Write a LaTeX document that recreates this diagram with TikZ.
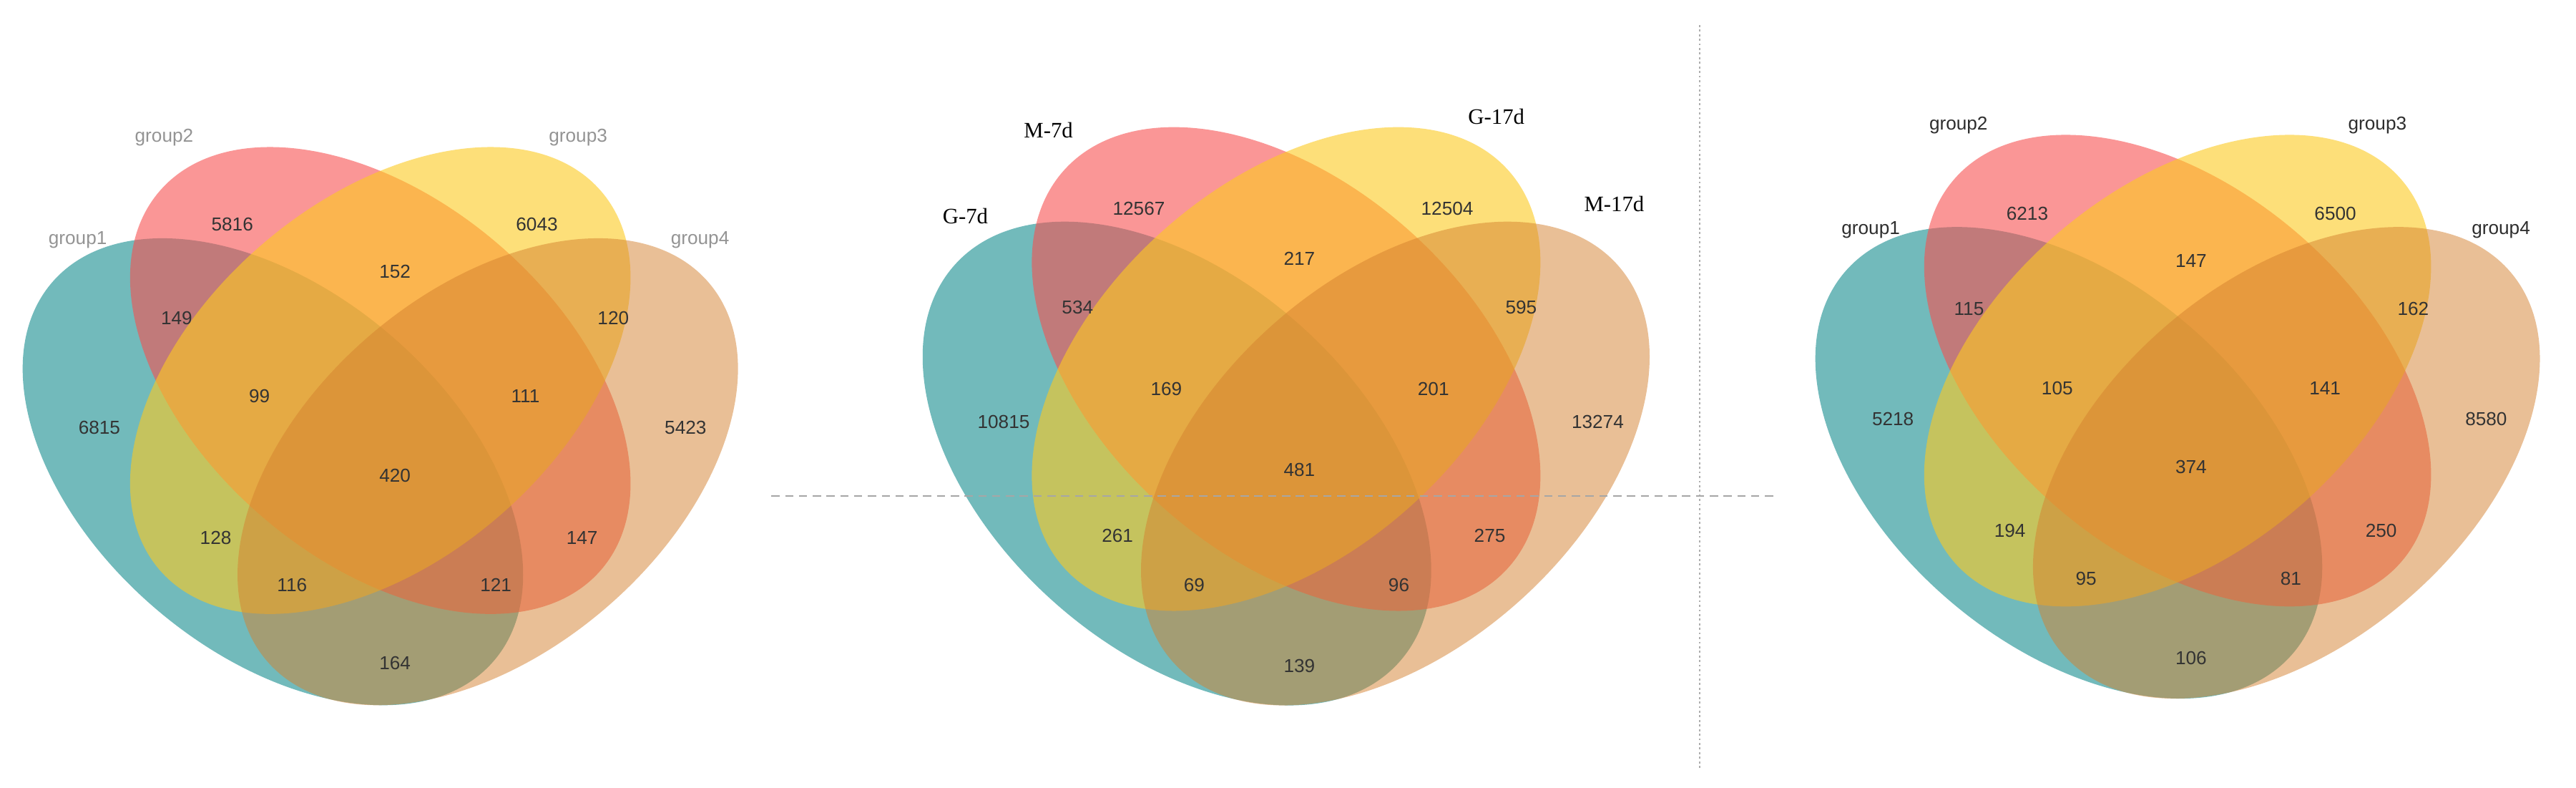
\documentclass[tikz,border=0pt]{standalone}
\usepackage{fontspec}
\setmainfont{Liberation Serif}
\setsansfont{Liberation Sans}
\definecolor{cteal}{RGB}{20,140,143}
\definecolor{cpink}{RGB}{247,80,80}
\definecolor{cyel}{RGB}{253,202,32}
\definecolor{ctan}{RGB}{213,129,47}
\tikzset{
  tealfill/.style={fill=cteal, fill opacity=0.6, draw=none},
  pinkfill/.style={fill=cpink, fill opacity=0.6, draw=none},
  yelfill/.style={fill=cyel, fill opacity=0.6, draw=none},
  tanfill/.style={fill=ctan, fill opacity=0.5, draw=none},
  num/.style={font=\sffamily\fontsize{11.4}{13}\selectfont, text=black!80, inner sep=0pt},
  glab/.style={font=\sffamily\fontsize{11.4}{13}\selectfont, text=black!42, inner sep=0pt},
  glabd/.style={font=\sffamily\fontsize{11.4}{13}\selectfont, text=black!82, inner sep=0pt},
  slab/.style={font=\rmfamily\fontsize{13.4}{15}\selectfont, text=black, inner sep=0pt},
  hdash/.style={draw=black!35, line width=0.6pt, dash pattern=on 5pt off 3.4pt},
  vdot/.style={draw=black!32, line width=0.55pt, dash pattern=on 1.2pt off 1.6pt},
}
\newcommand\fourellipses{%
  \fill[tealfill, shift={(-65.4,55.5)}, rotate=-40.5] (0,0) ellipse (177 and 109.7);
  \fill[pinkfill, rotate=-40.5] (0,0) ellipse (177 and 109.7);
  \fill[yelfill, rotate=40.5] (0,0) ellipse (177 and 109.7);
  \fill[tanfill, shift={(65.4,55.5)}, rotate=40.5] (0,0) ellipse (177 and 109.7);
}
\begin{document}
\begin{tikzpicture}[x=1pt,y=-1pt]
\useasboundingbox (0,0) rectangle (1568,479);
\fill[white] (0,0) rectangle (1568,479);

% ---------- Diagram 1 ----------
\begin{scope}[shift={(231.5,231.5)}]
  \fourellipses
\end{scope}
\node[glab] (a-g2) at (99.9,83.5) {group2};
\node[glab] (a-g3) at (351.9,83.5) {group3};
\node[glab] (a-g1) at (47.3,146) {group1};
\node[glab] (a-g4) at (426.1,146) {group4};
\node[num] (a1) at (141.4,136.5) {5816};
\node[num] (a2) at (326.8,136.5) {6043};
\node[num] (a3) at (240.4,165.2) {152};
\node[num] (a4) at (107.5,193.5) {149};
\node[num] (a5) at (373.3,193.5) {120};
\node[num] (a6) at (157.9,241) {99};
\node[num] (a7) at (319.8,241) {111};
\node[num] (a8) at (60.5,260.3) {6815};
\node[num] (a9) at (417.3,260.3) {5423};
\node[num] (a10) at (240.4,289.2) {420};
\node[num] (a11) at (131.3,327.2) {128};
\node[num] (a12) at (354.3,327.2) {147};
\node[num] (a13) at (177.8,356) {116};
\node[num] (a14) at (301.8,356) {121};
\node[num] (a15) at (240.4,403.5) {164};

% ---------- Diagram 2 ----------
\begin{scope}[shift={(782.85,224.5)}, xscale=1.0163, yscale=1.036]
  \fourellipses
\end{scope}
\node[slab] (b-g2) at (638.2,79.3) {M-7d};
\node[slab] (b-g3) at (910.8,71.0) {G-17d};
\node[slab] (b-g1) at (587.6,131.5) {G-7d};
\node[slab] (b-g4) at (982.5,124.0) {M-17d};
\node[num] (b1) at (693.2,126.8) {12567};
\node[num] (b2) at (880.9,126.8) {12504};
\node[num] (b3) at (790.9,157.3) {217};
\node[num] (b4) at (655.9,186.8) {534};
\node[num] (b5) at (925.9,186.8) {595};
\node[num] (b6) at (709.9,236.5) {169};
\node[num] (b7) at (872.5,236.5) {201};
\node[num] (b8) at (610.9,256.5) {10815};
\node[num] (b9) at (972.5,256.5) {13274};
\node[num] (b10) at (790.9,286) {481};
\node[num] (b11) at (680.2,326) {261};
\node[num] (b12) at (906.8,326) {275};
\node[num] (b13) at (726.9,356) {69};
\node[num] (b14) at (851.5,356) {96};
\node[num] (b15) at (790.9,405.2) {139};

% ---------- Diagram 3 ----------
\begin{scope}[shift={(1325.5,225.5)}, xscale=1.0129, yscale=1.01]
  \fourellipses
\end{scope}
\node[glabd] (c-g2) at (1192.1,76.4) {group2};
\node[glabd] (c-g3) at (1447.1,76.4) {group3};
\node[glabd] (c-g1) at (1138.7,139.9) {group1};
\node[glabd] (c-g4) at (1522.3,139.9) {group4};
\node[num] (c1) at (1234,129.8) {6213};
\node[num] (c2) at (1421.5,129.8) {6500};
\node[num] (c3) at (1333.7,158.8) {147};
\node[num] (c4) at (1198.5,187.9) {115};
\node[num] (c5) at (1468.9,187.9) {162};
\node[num] (c6) at (1252.2,236.1) {105};
\node[num] (c7) at (1415.2,236.1) {141};
\node[num] (c8) at (1152.2,255.1) {5218};
\node[num] (c9) at (1513.3,255.1) {8580};
\node[num] (c10) at (1333.7,284.1) {374};
\node[num] (c11) at (1223.4,322.9) {194};
\node[num] (c12) at (1449.4,322.9) {250};
\node[num] (c13) at (1269.8,351.9) {95};
\node[num] (c14) at (1394.4,351.9) {81};
\node[num] (c15) at (1333.7,400.2) {106};

% ---------- guide lines ----------
\coordinate (hl) at (469.5,301.8);
\coordinate (hr) at (1082,301.8);
\coordinate (vt) at (1034.6,15.2);
\coordinate (vb) at (1034.6,468);
\draw[hdash] (hl) -- (hr);
\draw[vdot] (vt) -- (vb);
\end{tikzpicture}
\end{document}
